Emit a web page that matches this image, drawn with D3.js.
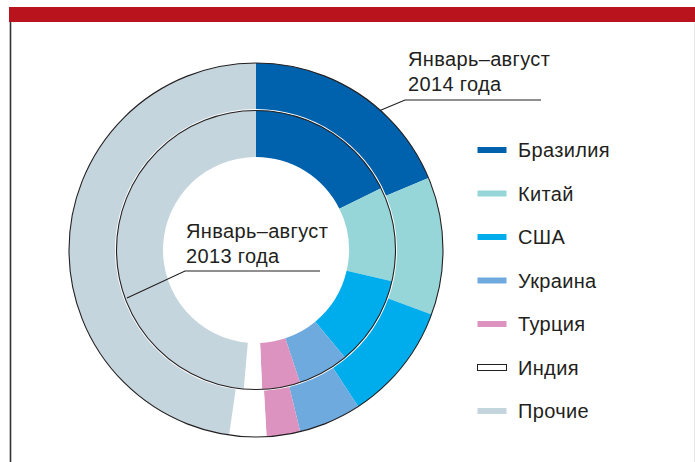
<!DOCTYPE html>
<html>
<head>
<meta charset="utf-8">
<script src="https://cdn.jsdelivr.net/npm/d3@7"></script>
<style>
  body { margin: 0; background: #fff; }
  text { font-family: "Liberation Sans", Arial, sans-serif; fill: #231f20; font-size: 20px; letter-spacing: 0.35px; }
</style>
</head>
<body>
<div id="chart"></div>
<script>
var categories = ["Бразилия", "Китай", "США", "Украина", "Турция", "Индия", "Прочие"];
var values2014 = [18.7, 11.9, 10.2, 5.4, 2.9, 3.2, 47.7];
var values2013 = [17.7, 10.9, 10.4, 5.9, 4.4, 2.1, 48.6];
var colors = ["#0061ad", "#97d6d8", "#00adec", "#6eaadd", "#dc93c0", "#ffffff", "#c5d5dd"];
var label2014 = ["Январь–август", "2014 года"];
var label2013 = ["Январь–август", "2013 года"];

donut();

function donut() {
  var width = 695;
  var height = 462;
  var cx = 256, cy = 250;

  var svg = d3.select("#chart")
    .append("svg")
    .attr("width", width)
    .attr("height", height);

  // frame
  svg.append("rect")
    .attr("x", 9).attr("y", 7)
    .attr("width", width - 9).attr("height", 15)
    .attr("fill", "#b9141d");

  svg.append("line")
    .attr("x1", 10.5).attr("x2", 10.5)
    .attr("y1", 22).attr("y2", height)
    .style("stroke", "#333").style("stroke-width", 1.6);

  svg.append("line")
    .attr("x1", 694.5).attr("x2", 694.5)
    .attr("y1", 22).attr("y2", height)
    .style("stroke", "#e6e6e6").style("stroke-width", 1);

  var color = d3.scaleOrdinal().domain(categories).range(colors);

  var pie = d3.pie().sort(null).value(function(d) { return d.v; });

  var g = svg.append("g")
    .attr("transform", "translate(" + cx + "," + cy + ")");

  var outerArc = d3.arc().innerRadius(141).outerRadius(187);
  var innerArc = d3.arc().innerRadius(93).outerRadius(139.5);

  var d14 = categories.map(function(c, i) { return { c: c, v: values2014[i] }; });
  var d13 = categories.map(function(c, i) { return { c: c, v: values2013[i] }; });

  g.selectAll("path.outer")
    .data(pie(d14))
    .enter()
    .append("path")
    .attr("class", "outer")
    .attr("d", outerArc)
    .attr("fill", function(d) { return color(d.data.c); });

  g.selectAll("path.inner")
    .data(pie(d13))
    .enter()
    .append("path")
    .attr("class", "inner")
    .attr("d", innerArc)
    .attr("fill", function(d) { return color(d.data.c); });

  g.append("circle")
    .attr("r", 187)
    .attr("fill", "none")
    .style("stroke", "#231f20").style("stroke-width", 1.1);

  g.append("circle")
    .attr("r", 139.5)
    .attr("fill", "none")
    .style("stroke", "#231f20").style("stroke-width", 1.1);

  // callout 2014
  svg.append("polyline")
    .attr("points", "380,110.5 405,100 541,100")
    .attr("fill", "none")
    .style("stroke", "#231f20").style("stroke-width", 1.1);

  svg.append("text")
    .attr("x", 408).attr("y", 66)
    .text(label2014[0]);
  svg.append("text")
    .attr("x", 408).attr("y", 90.5)
    .text(label2014[1]);

  // callout 2013
  svg.append("polyline")
    .attr("points", "127,298 185,271 320,271")
    .attr("fill", "none")
    .style("stroke", "#231f20").style("stroke-width", 1.1);

  svg.append("text")
    .attr("x", 186).attr("y", 237.5)
    .text(label2013[0]);
  svg.append("text")
    .attr("x", 186).attr("y", 263)
    .text(label2013[1]);

  // legend
  var ly = d3.scalePoint().domain(categories).range([150, 411]);

  var items = svg.selectAll("g.legend")
    .data(categories)
    .enter()
    .append("g")
    .attr("class", "legend")
    .attr("transform", function(d) { return "translate(477," + ly(d) + ")"; });

  items.append("rect")
    .attr("x", 0.5).attr("y", -3)
    .attr("width", 29).attr("height", 6)
    .attr("fill", function(d) { return color(d); })
    .style("stroke", function(d) { return d == "Индия" ? "#231f20" : "none"; })
    .style("stroke-width", 1);

  items.append("text")
    .attr("x", 41).attr("y", 7)
    .text(function(d) { return d; });
}
</script>
</body>
</html>
